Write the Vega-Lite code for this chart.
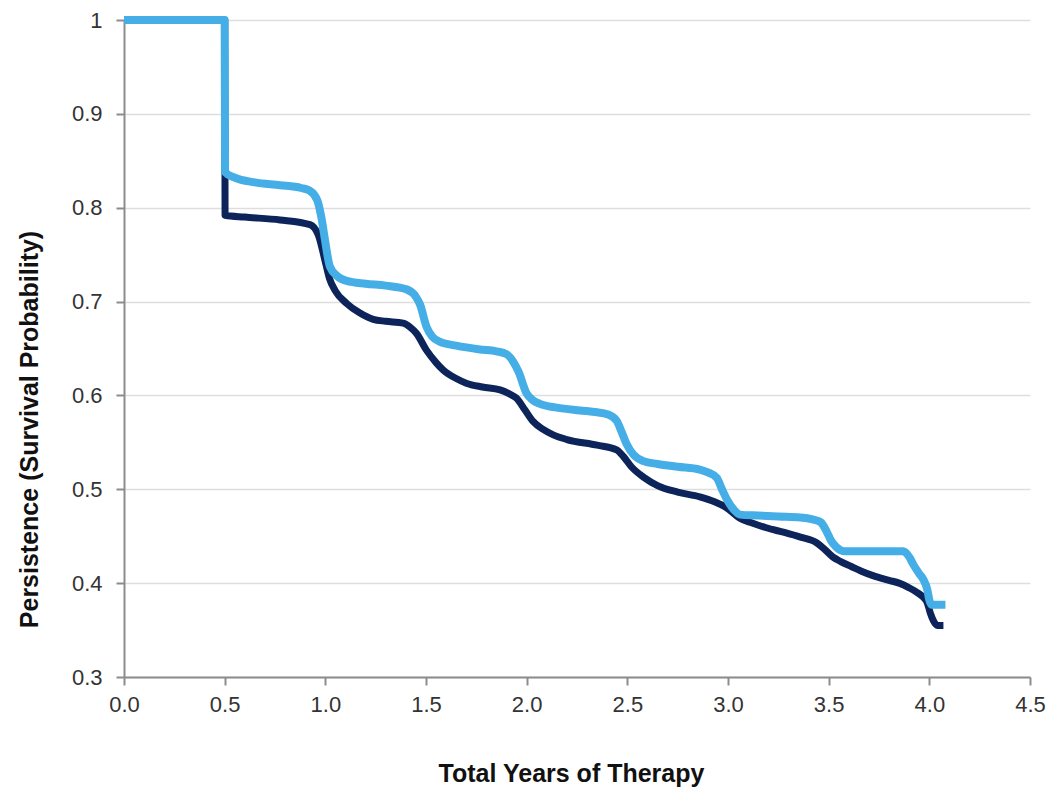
{
  "$schema": "https://vega.github.io/schema/vega-lite/v6.json",
  "width": 906,
  "height": 657,
  "autosize": {"type": "none"},
  "padding": {"left": 124, "top": 20, "right": 21, "bottom": 111},
  "background": "white",
  "config": {
    "view": {"stroke": null},
    "font": "Liberation Sans",
    "axis": {
      "labelFont": "Liberation Sans",
      "titleFont": "Liberation Sans",
      "labelFontSize": 22,
      "labelColor": "#333333",
      "titleFontSize": 25,
      "titleFontWeight": "bold",
      "titleColor": "#111111",
      "domainColor": "#8c8c8c",
      "domainWidth": 2,
      "tickColor": "#8c8c8c",
      "tickWidth": 2,
      "tickSize": 8
    }
  },
  "datasets": {
    "dark": [
      {"years": 0, "p": 1}, {"years": 0.5, "p": 1}, {"years": 0.502, "p": 0.792},
      {"years": 0.6, "p": 0.79}, {"years": 0.775, "p": 0.787}, {"years": 0.924, "p": 0.782},
      {"years": 0.965, "p": 0.771}, {"years": 0.998, "p": 0.744}, {"years": 1.02, "p": 0.725},
      {"years": 1.048, "p": 0.712}, {"years": 1.106, "p": 0.698}, {"years": 1.17, "p": 0.688},
      {"years": 1.238, "p": 0.681}, {"years": 1.3, "p": 0.679}, {"years": 1.387, "p": 0.677},
      {"years": 1.42, "p": 0.673}, {"years": 1.453, "p": 0.666}, {"years": 1.503, "p": 0.648},
      {"years": 1.55, "p": 0.635}, {"years": 1.586, "p": 0.627}, {"years": 1.65, "p": 0.618},
      {"years": 1.7, "p": 0.613}, {"years": 1.78, "p": 0.609}, {"years": 1.868, "p": 0.606},
      {"years": 1.92, "p": 0.601}, {"years": 1.95, "p": 0.597}, {"years": 1.99, "p": 0.585},
      {"years": 2.033, "p": 0.572}, {"years": 2.08, "p": 0.564}, {"years": 2.132, "p": 0.558},
      {"years": 2.2, "p": 0.553}, {"years": 2.35, "p": 0.547}, {"years": 2.447, "p": 0.542},
      {"years": 2.48, "p": 0.535}, {"years": 2.52, "p": 0.524}, {"years": 2.58, "p": 0.513},
      {"years": 2.65, "p": 0.504}, {"years": 2.75, "p": 0.497}, {"years": 2.86, "p": 0.492},
      {"years": 2.93, "p": 0.487}, {"years": 2.995, "p": 0.48}, {"years": 3.03, "p": 0.474},
      {"years": 3.06, "p": 0.469}, {"years": 3.12, "p": 0.464}, {"years": 3.19, "p": 0.459},
      {"years": 3.28, "p": 0.454}, {"years": 3.36, "p": 0.449}, {"years": 3.44, "p": 0.443},
      {"years": 3.48, "p": 0.436}, {"years": 3.52, "p": 0.428}, {"years": 3.56, "p": 0.423},
      {"years": 3.61, "p": 0.418}, {"years": 3.66, "p": 0.413}, {"years": 3.72, "p": 0.408},
      {"years": 3.8, "p": 0.403}, {"years": 3.85, "p": 0.4}, {"years": 3.9, "p": 0.395},
      {"years": 3.94, "p": 0.39}, {"years": 3.97, "p": 0.385}, {"years": 3.99, "p": 0.379},
      {"years": 4.005, "p": 0.368}, {"years": 4.02, "p": 0.36}, {"years": 4.04, "p": 0.355},
      {"years": 4.07, "p": 0.355}
    ],
    "light": [
      {"years": 0, "p": 1}, {"years": 0.5, "p": 1}, {"years": 0.502, "p": 0.838},
      {"years": 0.55, "p": 0.832}, {"years": 0.65, "p": 0.827}, {"years": 0.775, "p": 0.824},
      {"years": 0.88, "p": 0.821}, {"years": 0.924, "p": 0.818}, {"years": 0.96, "p": 0.808},
      {"years": 0.98, "p": 0.79}, {"years": 0.998, "p": 0.766}, {"years": 1.023, "p": 0.737},
      {"years": 1.06, "p": 0.727}, {"years": 1.106, "p": 0.722}, {"years": 1.2, "p": 0.719},
      {"years": 1.3, "p": 0.717}, {"years": 1.404, "p": 0.713}, {"years": 1.45, "p": 0.705},
      {"years": 1.47, "p": 0.697}, {"years": 1.503, "p": 0.673}, {"years": 1.53, "p": 0.663},
      {"years": 1.57, "p": 0.657}, {"years": 1.65, "p": 0.653}, {"years": 1.768, "p": 0.649},
      {"years": 1.85, "p": 0.647}, {"years": 1.9, "p": 0.644}, {"years": 1.93, "p": 0.637},
      {"years": 1.96, "p": 0.625}, {"years": 2.0, "p": 0.602}, {"years": 2.03, "p": 0.595},
      {"years": 2.066, "p": 0.591}, {"years": 2.15, "p": 0.587}, {"years": 2.265, "p": 0.584},
      {"years": 2.35, "p": 0.582}, {"years": 2.4, "p": 0.58}, {"years": 2.447, "p": 0.573},
      {"years": 2.47, "p": 0.562}, {"years": 2.497, "p": 0.548}, {"years": 2.53, "p": 0.537},
      {"years": 2.58, "p": 0.53}, {"years": 2.65, "p": 0.527}, {"years": 2.75, "p": 0.524},
      {"years": 2.86, "p": 0.521}, {"years": 2.9, "p": 0.518}, {"years": 2.945, "p": 0.512},
      {"years": 2.97, "p": 0.5}, {"years": 2.995, "p": 0.489}, {"years": 3.03, "p": 0.478},
      {"years": 3.06, "p": 0.473}, {"years": 3.15, "p": 0.472}, {"years": 3.25, "p": 0.471},
      {"years": 3.36, "p": 0.47}, {"years": 3.42, "p": 0.468}, {"years": 3.46, "p": 0.465},
      {"years": 3.49, "p": 0.455}, {"years": 3.51, "p": 0.446}, {"years": 3.54, "p": 0.438},
      {"years": 3.58, "p": 0.434}, {"years": 3.7, "p": 0.434}, {"years": 3.87, "p": 0.434},
      {"years": 3.9, "p": 0.428}, {"years": 3.92, "p": 0.42}, {"years": 3.95, "p": 0.41},
      {"years": 3.97, "p": 0.404}, {"years": 3.99, "p": 0.393}, {"years": 4.0, "p": 0.382},
      {"years": 4.01, "p": 0.377}, {"years": 4.05, "p": 0.377}, {"years": 4.08, "p": 0.377}
    ]
  },
  "encoding": {
    "x": {
      "field": "years", "type": "quantitative",
      "scale": {"domain": [0, 4.5], "nice": false, "zero": false},
      "axis": {
        "title": "Total Years of Therapy",
        "values": [0, 0.5, 1, 1.5, 2, 2.5, 3, 3.5, 4, 4.5],
        "format": ".1f",
        "grid": false,
        "labelPadding": 9,
        "labelFlush": false,
        "titleX": 447,
        "titleY": 96,
        "titleBaseline": "middle",
        "titleAlign": "center"
      }
    },
    "y": {
      "field": "p", "type": "quantitative",
      "scale": {"domain": [0.3, 1], "nice": false, "zero": false},
      "axis": {
        "title": "Persistence (Survival Probability)",
        "values": [0.3, 0.4, 0.5, 0.6, 0.7, 0.8, 0.9, 1],
        "labelExpr": "datum.value >= 0.999 ? '1' : format(datum.value, '.1f')",
        "grid": true,
        "gridColor": "#dedede",
        "gridWidth": 1.5,
        "labelPadding": 14,
        "labelFlush": false,
        "titleX": -95,
        "titleY": 409,
        "titleAngle": -90,
        "titleBaseline": "middle",
        "titleAlign": "center"
      }
    }
  },
  "layer": [
    {
      "data": {"name": "dark"},
      "mark": {"type": "line", "color": "#0c2459", "strokeWidth": 7, "interpolate": "monotone", "strokeJoin": "round"}
    },
    {
      "data": {"name": "light"},
      "mark": {"type": "line", "color": "#45aee6", "strokeWidth": 8, "interpolate": "monotone", "strokeJoin": "round"}
    }
  ]
}
